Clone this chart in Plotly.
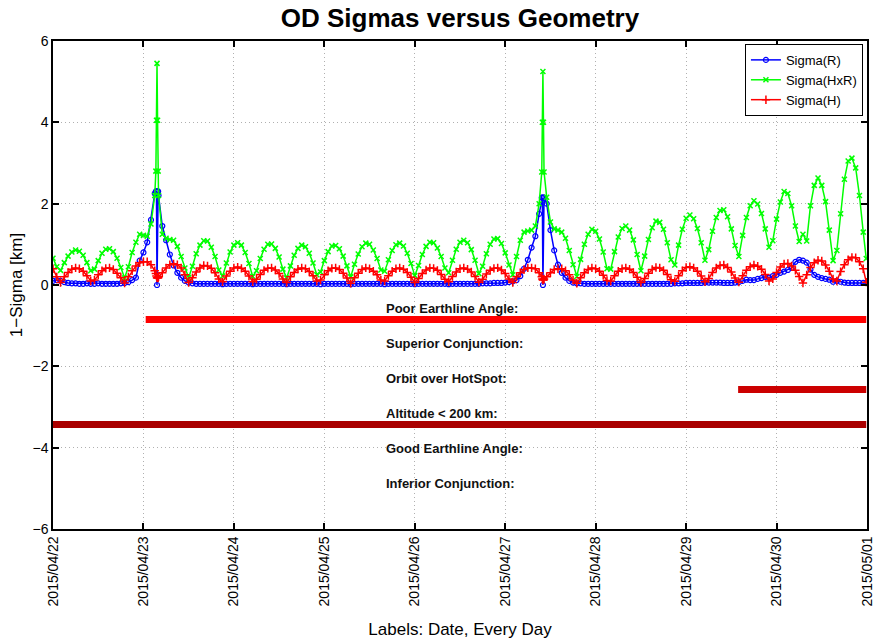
import pandas as pd
import plotly.graph_objects as go

# ---------------- data (hours after 2015-04-22 00:00) ----------------
START = "2015-04-22"
HOURS = (list(range(0, 28)) + [27.3, 27.45, 27.6, 27.75, 27.9] + list(range(28, 130))
         + [129.7, 129.85, 130, 130.15, 130.3] + list(range(131, 216)) + [215.8])

SIGMA_R = (
    [0.10, 0.12, 0.10, 0.07, 0.05, 0.04, 0.04, 0.03, 0.03, 0.04]
    + [0.03, 0.03, 0.04, 0.03, 0.03, 0.03, 0.03, 0.03, 0.04, 0.05]
    + [0.07, 0.12, 0.18, 0.60, 0.80, 1.05, 1.60, 2.25]
    + [2.30, 2.30, 0.00, 2.30, 2.30]
    + [2.20, 1.45]
    + [1.10, 0.75, 0.48, 0.30, 0.18, 0.10, 0.06, 0.04, 0.03, 0.03]
    + [0.03, 0.03, 0.03, 0.03, 0.03, 0.02, 0.03, 0.03, 0.03, 0.03]
    + [0.03, 0.03, 0.03, 0.02, 0.03, 0.03, 0.03, 0.03, 0.03, 0.03]
    + [0.03, 0.03, 0.02, 0.03, 0.03, 0.03, 0.03, 0.03, 0.03, 0.03]
    + [0.03, 0.02, 0.03, 0.03, 0.03, 0.03, 0.03, 0.03, 0.03, 0.02]
    + [0.03, 0.03, 0.03, 0.03, 0.03, 0.03, 0.03, 0.03, 0.02, 0.03]
    + [0.03, 0.03, 0.03, 0.03, 0.03, 0.03, 0.02, 0.03, 0.03, 0.03]
    + [0.03, 0.03, 0.03, 0.03, 0.03, 0.02, 0.03, 0.03, 0.03, 0.03]
    + [0.03, 0.03, 0.03, 0.03, 0.04, 0.04, 0.04, 0.05, 0.05, 0.05]
    + [0.06, 0.07, 0.09, 0.12, 0.22, 0.40, 0.62, 0.92, 1.20, 1.75]
    + [2.15, 2.15]
    + [0.00]
    + [2.15, 2.15]
    + [2.00, 1.35, 0.85, 0.50, 0.30, 0.18, 0.10, 0.06, 0.04]
    + [0.04, 0.03, 0.03, 0.03, 0.03, 0.03, 0.03, 0.03, 0.03, 0.03]
    + [0.03, 0.03, 0.03, 0.03, 0.03, 0.03, 0.03, 0.03, 0.03, 0.03]
    + [0.03, 0.03, 0.03, 0.03, 0.03, 0.04, 0.04, 0.04, 0.05, 0.05]
    + [0.05, 0.05, 0.05, 0.06, 0.06, 0.06, 0.06, 0.06, 0.05, 0.05]
    + [0.05, 0.06, 0.07, 0.10, 0.13, 0.12, 0.12, 0.15, 0.17, 0.20]
    + [0.18, 0.22, 0.25, 0.30, 0.33, 0.37, 0.42, 0.57, 0.62, 0.60]
    + [0.55, 0.38, 0.25, 0.20, 0.17, 0.15, 0.13, 0.08, 0.10, 0.08]
    + [0.06, 0.05, 0.05, 0.05, 0.05, 0.05]
    + [0.05]
)

SIGMA_HXR = (
    [0.66, 0.45, 0.36, 0.55, 0.71, 0.81, 0.86, 0.83, 0.73, 0.55]
    + [0.35, 0.39, 0.60, 0.78, 0.88, 0.89, 0.82, 0.66, 0.43, 0.17]
    + [0.45, 0.80, 1.05, 1.25, 1.22, 1.20, 1.50, 2.20]
    + [2.80, 4.05, 5.45, 4.05, 2.80]
    + [2.20, 1.25]
    + [1.15, 1.12, 1.10, 0.95, 0.70, 0.42, 0.18, 0.46, 0.77, 0.98]
    + [1.09, 1.08, 0.93, 0.70, 0.37, 0.22, 0.54, 0.81, 0.98, 1.04]
    + [0.98, 0.80, 0.53, 0.21, 0.35, 0.65, 0.88, 1.00, 1.01, 0.90]
    + [0.69, 0.39, 0.17, 0.47, 0.73, 0.90, 0.98, 0.94, 0.78, 0.54]
    + [0.25, 0.32, 0.60, 0.82, 0.96, 0.97, 0.89, 0.71, 0.47, 0.20]
    + [0.51, 0.76, 0.94, 1.03, 1.00, 0.86, 0.65, 0.37, 0.34, 0.62]
    + [0.85, 0.99, 1.03, 0.96, 0.78, 0.53, 0.23, 0.48, 0.75, 0.95]
    + [1.05, 1.04, 0.91, 0.70, 0.42, 0.30, 0.61, 0.88, 1.05, 1.10]
    + [1.04, 0.87, 0.61, 0.28, 0.46, 0.77, 1.00, 1.13, 1.14, 1.02]
    + [0.79, 0.49, 0.25, 0.70, 1.10, 1.30, 1.33, 1.35, 1.45, 2.00]
    + [2.78, 4.00]
    + [5.25]
    + [4.00, 2.78]
    + [2.16, 1.55, 1.38, 1.35, 1.30, 1.15, 0.85, 0.50, 0.21]
    + [0.63, 1.00, 1.25, 1.37, 1.32, 1.13, 0.81, 0.40, 0.39, 0.82]
    + [1.18, 1.39, 1.45, 1.35, 1.11, 0.75, 0.35, 0.71, 1.12, 1.41]
    + [1.57, 1.54, 1.37, 1.04, 0.62, 0.49, 0.98, 1.37, 1.64, 1.72]
    + [1.63, 1.39, 1.04, 0.61, 0.87, 1.32, 1.66, 1.83, 1.85, 1.68]
    + [1.38, 0.97, 0.70, 1.22, 1.66, 1.95, 2.07, 1.99, 1.76, 1.38]
    + [0.93, 1.09, 1.62, 2.04, 2.30, 2.25, 1.95, 1.45, 1.07, 1.25]
    + [1.08, 1.95, 2.45, 2.63, 2.45, 2.05, 1.35, 0.60, 0.85, 1.75]
    + [2.60, 3.05, 3.12, 2.88, 2.20, 1.30]
    + [0.65]
)

SIGMA_H = (
    [0.40, 0.20, 0.06, 0.20, 0.31, 0.39, 0.42, 0.40, 0.34, 0.23]
    + [0.10, 0.12, 0.25, 0.35, 0.41, 0.42, 0.38, 0.29, 0.18, 0.05]
    + [0.20, 0.35, 0.47, 0.55, 0.57, 0.57, 0.50, 0.35]
    + [0.28, 0.22, 0.18, 0.17, 0.18]
    + [0.20, 0.30]
    + [0.42, 0.50, 0.52, 0.50, 0.42, 0.25, 0.06, 0.18, 0.32, 0.42]
    + [0.48, 0.47, 0.41, 0.30, 0.15, 0.08, 0.22, 0.34, 0.42, 0.44]
    + [0.41, 0.34, 0.22, 0.08, 0.14, 0.26, 0.36, 0.41, 0.42, 0.37]
    + [0.28, 0.15, 0.06, 0.20, 0.31, 0.39, 0.42, 0.40, 0.33, 0.23]
    + [0.10, 0.12, 0.25, 0.35, 0.41, 0.42, 0.38, 0.29, 0.17, 0.04]
    + [0.18, 0.29, 0.38, 0.42, 0.40, 0.34, 0.25, 0.12, 0.10, 0.23]
    + [0.34, 0.40, 0.42, 0.39, 0.31, 0.19, 0.06, 0.16, 0.28, 0.37]
    + [0.42, 0.41, 0.36, 0.26, 0.14, 0.08, 0.21, 0.32, 0.40, 0.42]
    + [0.39, 0.32, 0.21, 0.07, 0.14, 0.27, 0.36, 0.41, 0.42, 0.37]
    + [0.28, 0.15, 0.06, 0.20, 0.30, 0.38, 0.42, 0.42, 0.40, 0.30]
    + [0.20, 0.15]
    + [0.12]
    + [0.13, 0.15]
    + [0.20, 0.30, 0.38, 0.40, 0.40, 0.35, 0.25, 0.12, 0.04]
    + [0.18, 0.30, 0.38, 0.42, 0.40, 0.34, 0.24, 0.11, 0.10, 0.23]
    + [0.34, 0.40, 0.42, 0.39, 0.31, 0.19, 0.06, 0.16, 0.29, 0.38]
    + [0.43, 0.42, 0.36, 0.26, 0.13, 0.09, 0.23, 0.35, 0.43, 0.45]
    + [0.42, 0.34, 0.22, 0.08, 0.16, 0.31, 0.42, 0.48, 0.49, 0.43]
    + [0.32, 0.17, 0.07, 0.23, 0.36, 0.45, 0.49, 0.46, 0.39, 0.26]
    + [0.10, 0.15, 0.31, 0.44, 0.52, 0.53, 0.47, 0.36, 0.21, 0.05]
    + [0.25, 0.43, 0.55, 0.61, 0.59, 0.49, 0.34, 0.15, 0.10, 0.33]
    + [0.50, 0.62, 0.68, 0.67, 0.57, 0.40]
    + [0.07]
)

FLAG_LABELS = ["Poor Earthline Angle:", "Superior Conjunction:", "Orbit over HotSpot:",
               "Altitude < 200 km:", "Good Earthline Angle:", "Inferior Conjunction:"]
FLAG_LABEL_Y = [-0.58, -1.44, -2.30, -3.16, -4.02, -4.88]
FLAG_LABEL_HOUR = 87.8
# active flag bars
FLAG_BAR_Y = [-0.85, -2.57, -3.43]
FLAG_BAR_START = [24.6, 181.8, 0.0]
FLAG_BAR_END = [215.8, 215.8, 215.8]
FLAG_BAR_COLOR = ["#ff0000", "#cc0000", "#aa0000"]

DAY_LABELS = ["2015/04/22", "2015/04/23", "2015/04/24", "2015/04/25", "2015/04/26",
              "2015/04/27", "2015/04/28", "2015/04/29", "2015/04/30", "2015/05/01"]
Y_TICKS = [-6, -4, -2, 0, 2, 4, 6]

for name, arr in [("R", SIGMA_R), ("HxR", SIGMA_HXR), ("H", SIGMA_H)]:
    if len(arr) != len(HOURS):
        raise ValueError(f"{name}: {len(arr)} vs {len(HOURS)}")

t0 = pd.Timestamp(START)
def to_time(hours):
    return [t0 + pd.Timedelta(hours=float(h)) for h in hours]

times = to_time(HOURS)
day_ticks = [t0 + pd.Timedelta(days=i) for i in range(len(DAY_LABELS))]

FONT = "Liberation Sans, Arial, Helvetica, sans-serif"
fig = go.Figure()

fig.add_trace(go.Scatter(
    x=times, y=SIGMA_R, name="Sigma(R)", mode="lines+markers",
    line=dict(color="#0000ff", width=1.5),
    marker=dict(symbol="circle-open", size=5, color="#0000ff", line=dict(width=1.2, color="#0000ff")),
))
fig.add_trace(go.Scatter(
    x=times, y=SIGMA_HXR, name="Sigma(HxR)", mode="lines+markers",
    line=dict(color="#00ff00", width=1.5),
    marker=dict(symbol="x-thin-open", size=5, color="#00ff00", line=dict(width=1.5, color="#00ff00")),
))
fig.add_trace(go.Scatter(
    x=times, y=SIGMA_H, name="Sigma(H)", mode="lines+markers",
    line=dict(color="#ff0000", width=1.5),
    marker=dict(symbol="cross-thin-open", size=6, color="#ff0000", line=dict(width=1.5, color="#ff0000")),
))

for i, y in enumerate(FLAG_BAR_Y):
    fig.add_trace(go.Scatter(
        x=to_time([FLAG_BAR_START[i], FLAG_BAR_END[i]]), y=[y, y], mode="lines",
        line=dict(color=FLAG_BAR_COLOR[i], width=7), showlegend=False, hoverinfo="skip",
    ))

label_time = t0 + pd.Timedelta(hours=FLAG_LABEL_HOUR)
for txt, y in zip(FLAG_LABELS, FLAG_LABEL_Y):
    fig.add_annotation(x=label_time, y=y, text=f"<b>{txt}</b>", showarrow=False,
                       xanchor="left", yanchor="middle",
                       font=dict(family=FONT, size=13, color="#111111"))

axis_common = dict(
    showline=True, linecolor="black", linewidth=1.5, mirror="ticks",
    ticks="inside", ticklen=6, tickwidth=1.5, tickcolor="black",
    showgrid=True, gridcolor="#b0b0b0", griddash="1px,3px", gridwidth=1,
    zeroline=False, tickfont=dict(family=FONT, size=14, color="black"),
)

fig.update_xaxes(
    type="date", range=[day_ticks[0], day_ticks[-1]],
    tickvals=day_ticks, ticktext=DAY_LABELS, tickangle=-90,
    title=dict(text="Labels: Date, Every Day", font=dict(family=FONT, size=17, color="black"), standoff=18),
    automargin=False, **axis_common,
)
fig.update_yaxes(
    range=[-6, 6], tickvals=Y_TICKS,
    title=dict(text="1\u2212Sigma [km]", font=dict(family=FONT, size=17, color="black"), standoff=6),
    automargin=False, **axis_common,
)

fig.update_layout(
    width=889, height=643,
    margin=dict(l=53, r=22, t=41, b=114, autoexpand=False),
    paper_bgcolor="white", plot_bgcolor="white",
    font=dict(family=FONT, color="black"),
    title=dict(text="<b>OD Sigmas versus Geometry</b>", x=460 / 889, xanchor="center",
               y=1 - 18 / 643, yanchor="middle", yref="container",
               font=dict(family=FONT, size=26, color="black")),
    legend=dict(x=0.995, y=0.994, xanchor="right", yanchor="top",
                bgcolor="white", bordercolor="black", borderwidth=1,
                font=dict(family=FONT, size=13, color="black"),
                tracegroupgap=0, itemwidth=30),
    showlegend=True,
)

fig.write_html("out.html", config={"displayModeBar": False},
               post_script="document.body.style.margin='0';document.body.style.padding='0';")
